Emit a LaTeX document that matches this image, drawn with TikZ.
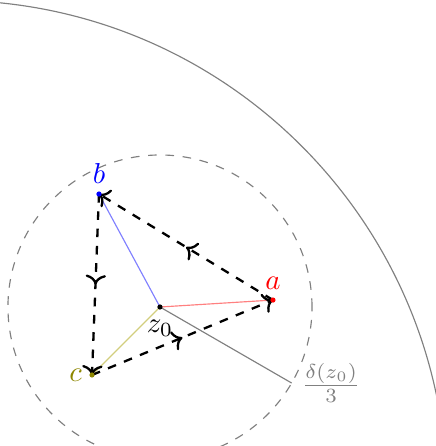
\documentclass[tikz,border=0pt]{standalone}
\usepackage{tikz}
\usetikzlibrary{positioning, arrows.meta, calc, decorations.markings}

\tikzset{
  cycedge/.style={thick, dashed, ->, postaction={decorate},
    decoration={markings, mark=at position 0.5 with {\arrow{>}}}},
  ptdot/.style={circle, fill, inner sep=0pt, minimum size=1.8pt},
  spoke/.style={thin},
}

\begin{document}
\begin{tikzpicture}
  \useasboundingbox (-1.951,-1.695) rectangle (3.366,3.744);
  \clip (-1.951,-1.695) rectangle (3.366,3.744);

  % points
  \coordinate (z0) at (0,0);
  \coordinate (a) at (1.378,0.085);
  \coordinate (b) at (-0.744,1.378);
  \coordinate (c) at (-0.829,-0.829);
  \coordinate (r) at (-30:1.854);
  \coordinate (o) at (-2.56,-2.32);

  % boundary and disc
  \draw[gray] (o) circle (6.06);
  \draw[gray, dashed] (z0) circle (1.854);
  \draw[gray] (z0) -- (r);
  \node[gray, right] (rad) at (r) {$\frac{\delta(z_0)}{3}$};

  % spokes
  \draw[spoke, red!50] (z0) -- (a);
  \draw[spoke, blue!50] (z0) -- (b);
  \draw[spoke, olive!40] (z0) -- (c);

  % triangle
  \draw[cycedge] (a) -- (b);
  \draw[cycedge] (b) -- (c);
  \draw[cycedge] (c) -- (a);

  \node[ptdot] (pz) at (z0) {};
  \node[ptdot, red] (pa) at (a) {};
  \node[ptdot, blue] (pb) at (b) {};
  \node[ptdot, olive] (pc) at (c) {};

  \node[below=1pt of z0] (lz) {$z_0$};
  \node[red, above] (la) at (a) {$a$};
  \node[blue, above] (lb) at (b) {$b$};
  \node[olive, left] (lc) at (c) {$c$};
\end{tikzpicture}
\end{document}
